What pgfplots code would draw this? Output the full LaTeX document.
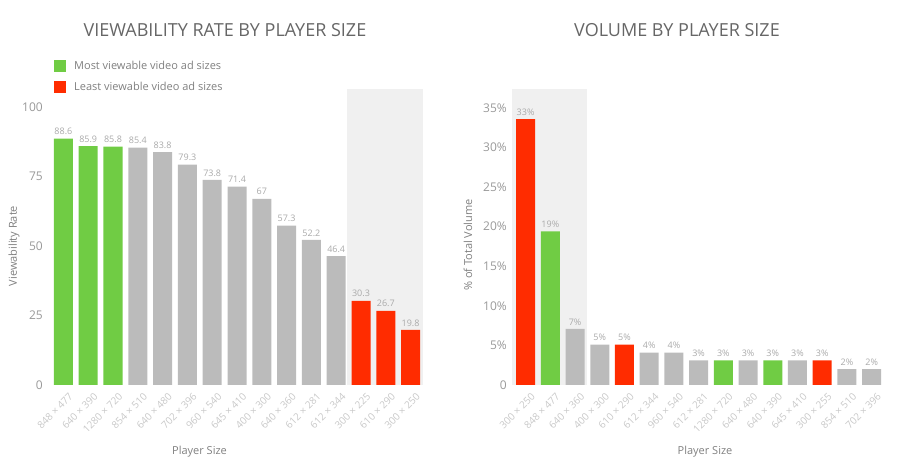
\documentclass[border=0pt]{standalone}
\usepackage{fontspec}
\setmainfont{Open Sans}
\usepackage{pgfplots}
\pgfplotsset{compat=1.18}
\definecolor{vgreen}{HTML}{70CC44}
\definecolor{vred}{HTML}{FF2C00}
\definecolor{vgrey}{HTML}{BBBBBB}
\definecolor{bgshade}{HTML}{F0F0F0}
\definecolor{ticktext}{HTML}{999999}
\definecolor{xticktext}{HTML}{C8C8C8}
\definecolor{valtext}{HTML}{AAAAAA}
\definecolor{titletext}{HTML}{666666}
\definecolor{labeltext}{HTML}{808080}

\pgfplotsset{
  sizechart/.style={
    scale only axis, width=372pt, height=296pt,
    anchor=south west,
    enlargelimits=false,
    axis line style={draw=none},
    tick style={draw=none}, major tick length=0pt,
    xtick={0,...,14},
    yticklabel style={font=\fontsize{12}{14}\selectfont, text=ticktext, anchor=east, inner sep=0pt},
    xticklabel style={font=\fontsize{10}{12}\selectfont, text=xticktext, inner sep=0pt,
      xshift=5pt, yshift=-7pt, rotate=45, anchor=north east},
    nodes near coords, point meta=explicit symbolic,
    every node near coord/.append style={font=\fontsize{9}{10}\selectfont, text=valtext, inner sep=0pt, yshift=3.5pt},
  },
  vbar/.style={ybar, bar width=19pt, bar shift=0pt, fill=#1, draw=none},
}

\begin{document}
\begin{tikzpicture}[x=1pt,y=1pt]
\path[use as bounding box] (0,0) rectangle (900,468);

% left: viewability rate
\begin{axis}[sizechart, at={(51pt,83pt)},
  xmin=-0.5, xmax=14.5, ymin=0, ymax=106.5,
  ytick={0,25,50,75,100}, yticklabels={0,25,50,75,100},
  yticklabel style={xshift=-8pt},
  xticklabels={848 × 477, 640 × 390, 1280 × 720, 854 × 510, 640 × 480, 702 × 396, 960 × 540, 645 × 410, 400 × 300, 640 × 360, 612 × 281, 612 × 344, 300 × 225, 610 × 290, 300 × 250},
  legend cell align=left,
  legend style={at={(axis description cs:0.008,1.1)}, anchor=north west,
    draw=none, fill=none, inner sep=0pt, row sep=9pt,
    font=\fontsize{11}{13}\selectfont, text=labeltext, nodes={inner sep=0pt}},
  legend image code/.code={\fill[#1] (0pt,-6pt) rectangle (12pt,6pt); \path (20pt,0pt);},
]
\fill[bgshade] (axis cs:11.45,-1) rectangle (axis cs:14.5,106.5);
\addplot[vbar=vgreen, forget plot] coordinates {(0,88.6) [88.6] (1,85.9) [85.9] (2,85.8) [85.8]};
\addplot[vbar=vgrey, forget plot] coordinates {
  (3,85.4) [85.4] (4,83.8) [83.8] (5,79.3) [79.3] (6,73.8) [73.8] (7,71.4) [71.4]
  (8,67) [67] (9,57.3) [57.3] (10,52.2) [52.2] (11,46.4) [46.4]};
\addplot[vbar=vred, forget plot] coordinates {(12,30.3) [30.3] (13,26.7) [26.7] (14,19.8) [19.8]};
\addlegendimage{fill=vgreen, draw=none}
\addlegendentry{Most viewable video ad sizes}
\addlegendimage{fill=vred, draw=none}
\addlegendentry{Least viewable video ad sizes}
\end{axis}

% right: volume share
\begin{axis}[sizechart, at={(512pt,83pt)},
  xmin=-0.55, xmax=14.5, ymin=0, ymax=37.4,
  ytick={0,5,10,15,20,25,30,35},
  yticklabels={0,5\%,10\%,15\%,20\%,25\%,30\%,35\%},
  yticklabel style={xshift=-5pt},
  xticklabels={300 × 250, 848 × 477, 640 × 360, 400 × 300, 610 × 290, 612 × 344, 960 × 540, 612 × 281, 1280 × 720, 640 × 480, 640 × 390, 645 × 410, 300 × 255, 854 × 510, 702 × 396},
]
\fill[bgshade] (axis cs:-0.55,-1) rectangle (axis cs:2.5,37.4);
\addplot[vbar=vred] coordinates {(0,33.6) [33\%] (4,5.1) [5\%] (12,3.1) [3\%]};
\addplot[vbar=vgreen] coordinates {(1,19.4) [19\%] (8,3.1) [3\%] (10,3.1) [3\%]};
\addplot[vbar=vgrey] coordinates {
  (2,7.1) [7\%] (3,5.1) [5\%] (5,4.1) [4\%] (6,4.1) [4\%] (7,3.1) [3\%]
  (9,3.1) [3\%] (11,3.1) [3\%] (13,2.0) [2\%] (14,2.0) [2\%]};
\end{axis}

% titles and axis labels
\node[font=\fontsize{18}{20}\selectfont, text=titletext] at (225,438) {VIEWABILITY RATE BY PLAYER SIZE};
\node[font=\fontsize{18}{20}\selectfont, text=titletext] at (677,438) {VOLUME BY PLAYER SIZE};
\node[rotate=90, font=\fontsize{11}{13}\selectfont, text=labeltext] at (14,222) {Viewability Rate};
\node[rotate=90, font=\fontsize{11}{13}\selectfont, text=labeltext] at (468,223) {\% of Total Volume};
\node[font=\fontsize{11}{13}\selectfont, text=labeltext] at (199.5,16) {Player Size};
\node[font=\fontsize{11}{13}\selectfont, text=labeltext] at (705,16) {Player Size};
\end{tikzpicture}
\end{document}
